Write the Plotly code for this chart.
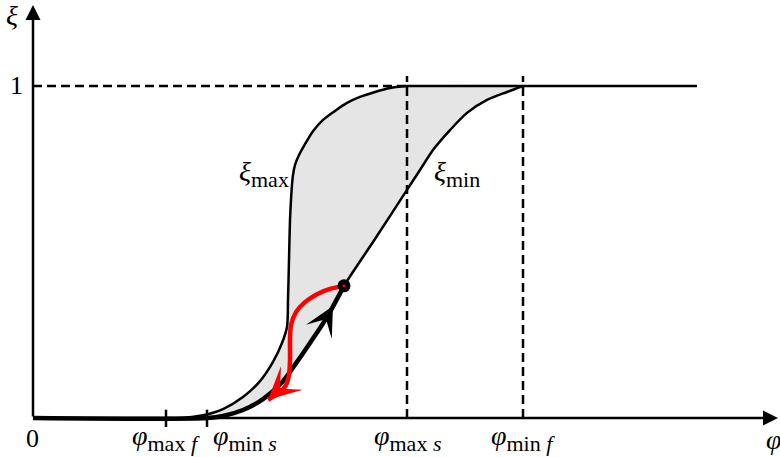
import plotly.graph_objects as go

# Characteristic abscissae on the phi axis
phi_max_f = 1.33
phi_min_s = 1.74
phi_max_s = 3.74
phi_min_f = 4.90
phi_end = 6.64

# Upper bound curve xi_max(phi)
xi_max_phi = [1.33, 1.50, 1.70, 1.90, 2.10, 2.27, 2.40, 2.49, 2.54, 2.55, 2.56, 2.57, 2.58,
              2.59, 2.60, 2.62, 2.66, 2.72, 2.80, 2.90, 3.02, 3.14, 3.27, 3.42, 3.57, 3.74]
xi_max_val = [0.000, 0.000, 0.008, 0.027, 0.063, 0.111, 0.169, 0.226, 0.274, 0.355, 0.476, 0.596, 0.657,
              0.702, 0.732, 0.762, 0.792, 0.825, 0.864, 0.898, 0.925, 0.949, 0.967, 0.982, 0.994, 1.000]

# Lower bound curve xi_min(phi)
xi_min_phi = [1.74, 1.90, 2.10, 2.30, 2.50, 2.64, 2.77, 2.94, 3.11, 3.42, 3.74, 3.87,
              4.00, 4.17, 4.34, 4.54, 4.74, 4.90]
xi_min_val = [0.000, 0.006, 0.024, 0.057, 0.111, 0.169, 0.226, 0.304, 0.398, 0.539, 0.687, 0.747,
              0.807, 0.867, 0.919, 0.958, 0.982, 1.000]

# Loading path: along the axis, then up the lower bound to the current state
state_phi, state_xi = 3.11, 0.398
path_phi = [0.0] + [p for p in xi_min_phi if p <= state_phi]
path_xi = [0.0] + [v for p, v in zip(xi_min_phi, xi_min_val) if p <= state_phi]

# Unloading path (red)
back_phi = [3.11, 2.97, 2.84, 2.72, 2.63, 2.58, 2.57, 2.57, 2.56, 2.53, 2.47, 2.35]
back_xi = [0.398, 0.389, 0.373, 0.349, 0.319, 0.280, 0.235, 0.175, 0.130, 0.099, 0.078, 0.055]

X_RANGE = [-0.33, 7.47]
Y_RANGE = [-0.1175, 1.259]
SERIF = "Liberation Serif, DejaVu Serif, serif"
LW = 2.5

fig = go.Figure()

# shaded band between the two bounds
fig.add_trace(go.Scatter(
    x=xi_max_phi + xi_min_phi[::-1], y=xi_max_val + xi_min_val[::-1],
    fill="toself", fillcolor="#e5e5e5", mode="lines",
    line=dict(width=0, shape="spline", smoothing=0.8), hoverinfo="skip"))

dash = "9px,5px"
fig.add_trace(go.Scatter(x=[0, phi_max_s], y=[1, 1], mode="lines",
                         line=dict(color="black", width=LW, dash=dash)))
for p in (phi_max_s, phi_min_f):
    fig.add_trace(go.Scatter(x=[p, p], y=[0, 1.03], mode="lines",
                             line=dict(color="black", width=LW, dash=dash)))

# bounds
fig.add_trace(go.Scatter(x=xi_max_phi, y=xi_max_val, mode="lines",
                         line=dict(color="black", width=LW, shape="spline", smoothing=0.8)))
fig.add_trace(go.Scatter(x=xi_min_phi, y=xi_min_val, mode="lines",
                         line=dict(color="black", width=LW, shape="spline", smoothing=0.8)))
fig.add_trace(go.Scatter(x=[phi_max_s, phi_end], y=[1, 1], mode="lines",
                         line=dict(color="black", width=LW)))

# tick marks
for p in (phi_max_f, phi_min_s):
    fig.add_trace(go.Scatter(x=[p, p], y=[-0.027, 0.025], mode="lines",
                             line=dict(color="black", width=LW)))

# loading path
fig.add_trace(go.Scatter(x=path_phi, y=path_xi, mode="lines",
                         line=dict(color="black", width=4.5, shape="spline", smoothing=0.8)))
# unloading path
fig.add_trace(go.Scatter(x=back_phi, y=back_xi, mode="lines",
                         line=dict(color="red", width=4.5, shape="spline", smoothing=0.8)))

# current state
fig.add_trace(go.Scatter(x=[state_phi], y=[state_xi], mode="markers",
                         marker=dict(size=13, color="black")))
fig.add_trace(go.Scatter(x=[state_phi], y=[state_xi], mode="markers",
                         marker=dict(size=3, color="red")))

ann = []
# coordinate axes with arrows
ann.append(dict(x=7.45, y=0, ax=0, ay=0, xref="x", yref="y", axref="x", ayref="y",
                text="", showarrow=True, arrowhead=2, arrowsize=1.2, arrowwidth=LW,
                arrowcolor="black", standoff=0))
ann.append(dict(x=0, y=1.244, ax=0, ay=0, xref="x", yref="y", axref="x", ayref="y",
                text="", showarrow=True, arrowhead=2, arrowsize=1.2, arrowwidth=LW,
                arrowcolor="black", standoff=0))
# direction arrows on the paths
ann.append(dict(x=3.00, y=0.337, ax=2.94, ay=0.304, xref="x", yref="y", axref="x", ayref="y",
                text="", showarrow=True, arrowhead=3, arrowsize=1.4, arrowwidth=3.5,
                arrowcolor="black", standoff=0))
ann.append(dict(x=back_phi[-1], y=back_xi[-1], ax=back_phi[-2], ay=back_xi[-2] + 0.01,
                xref="x", yref="y", axref="x", ayref="y",
                text="", showarrow=True, arrowhead=3, arrowsize=1.2, arrowwidth=4.5,
                arrowcolor="red", standoff=0))


def label(x, y, text, xanchor="center", size=28):
    ann.append(dict(x=x, y=y, xref="x", yref="y", text=text, showarrow=False,
                    xanchor=xanchor, yanchor="middle",
                    font=dict(family=SERIF, size=size, color="black")))


def sub(s):
    return '<sub><span style="font-size:22px">' + s + "</span></sub>"


label(-0.01, -0.062, "0", size=26)
label(-0.17, 1.0, "1", size=26)
label(-0.21, 1.213, "<i>ξ</i>")
label(7.31, -0.065, "<i>φ</i>", xanchor="left")
label(phi_max_f, -0.06, "<i>φ</i>" + sub("max <i>f</i>"))
label(phi_min_s + 0.04, -0.06, "<i>φ</i>" + sub("min <i>s</i>"), xanchor="left")
label(phi_max_s, -0.06, "<i>φ</i>" + sub("max <i>s</i>"))
label(phi_min_f, -0.06, "<i>φ</i>" + sub("min <i>f</i>"))
label(2.58, 0.735, "<i>ξ</i>" + sub("max"), xanchor="right")
label(3.99, 0.735, "<i>ξ</i>" + sub("min"), xanchor="left")

fig.update_layout(
    width=780, height=457, margin=dict(l=0, r=0, t=0, b=0),
    paper_bgcolor="white", plot_bgcolor="white", showlegend=False,
    xaxis=dict(range=X_RANGE, visible=False, fixedrange=True),
    yaxis=dict(range=Y_RANGE, visible=False, fixedrange=True),
    annotations=ann,
)

fig.write_html("out.html")
